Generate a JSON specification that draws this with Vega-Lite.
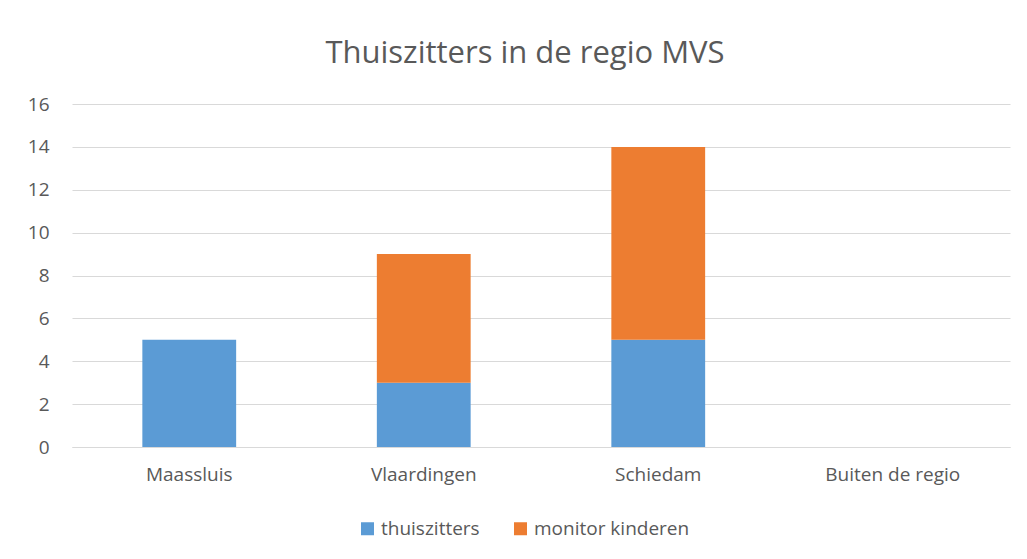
{
  "$schema": "https://vega.github.io/schema/vega-lite/v6.json",
  "autosize": "none",
  "width": 938,
  "height": 343,
  "padding": {"left": 72, "top": 104, "right": 17, "bottom": 112},
  "background": "white",
  "title": {
    "text": "Thuiszitters in de regio MVS",
    "font": "Open Sans",
    "fontSize": 31,
    "fontWeight": "normal",
    "color": "#595959",
    "anchor": "middle",
    "dx": -16,
    "offset": 25
  },
  "data": {
    "values": [
      {"gemeente": "Maassluis", "serie": "thuiszitters", "o": 1, "aantal": 5},
      {"gemeente": "Maassluis", "serie": "monitor kinderen", "o": 2, "aantal": 0},
      {"gemeente": "Vlaardingen", "serie": "thuiszitters", "o": 1, "aantal": 3},
      {"gemeente": "Vlaardingen", "serie": "monitor kinderen", "o": 2, "aantal": 6},
      {"gemeente": "Schiedam", "serie": "thuiszitters", "o": 1, "aantal": 5},
      {"gemeente": "Schiedam", "serie": "monitor kinderen", "o": 2, "aantal": 9},
      {"gemeente": "Buiten de regio", "serie": "thuiszitters", "o": 1, "aantal": 0},
      {"gemeente": "Buiten de regio", "serie": "monitor kinderen", "o": 2, "aantal": 0}
    ]
  },
  "mark": {"type": "bar"},
  "encoding": {
    "x": {
      "field": "gemeente",
      "type": "nominal",
      "sort": ["Maassluis", "Vlaardingen", "Schiedam", "Buiten de regio"],
      "scale": {"paddingInner": 0.6, "paddingOuter": 0.3},
      "axis": {
        "title": null,
        "labelAngle": 0,
        "labelFont": "Open Sans",
        "labelFontSize": 19,
        "labelColor": "#595959",
        "labelPadding": 18,
        "ticks": false,
        "domain": true,
        "domainColor": "#D9D9D9",
        "grid": false
      }
    },
    "y": {
      "field": "aantal",
      "type": "quantitative",
      "stack": "zero",
      "scale": {"domain": [0, 16], "nice": false},
      "axis": {
        "title": null,
        "values": [0, 2, 4, 6, 8, 10, 12, 14, 16],
        "labelFont": "Open Sans",
        "labelFontSize": 19,
        "labelColor": "#595959",
        "labelPadding": 23,
        "ticks": false,
        "domain": false,
        "grid": true,
        "gridColor": "#D9D9D9",
        "gridWidth": 1
      }
    },
    "color": {
      "field": "serie",
      "type": "nominal",
      "scale": {"domain": ["thuiszitters", "monitor kinderen"], "range": ["#5B9BD5", "#ED7D31"]},
      "legend": {
        "title": null,
        "orient": "none",
        "direction": "horizontal",
        "legendX": 286,
        "legendY": 415,
        "symbolType": "square",
        "symbolSize": 169,
        "symbolStrokeWidth": 0,
        "labelFont": "Open Sans",
        "labelFontSize": 19,
        "labelColor": "#595959",
        "columnPadding": 31,
        "labelOffset": 4
      }
    },
    "order": {"field": "o", "type": "quantitative"}
  },
  "config": {"view": {"stroke": null}}
}
